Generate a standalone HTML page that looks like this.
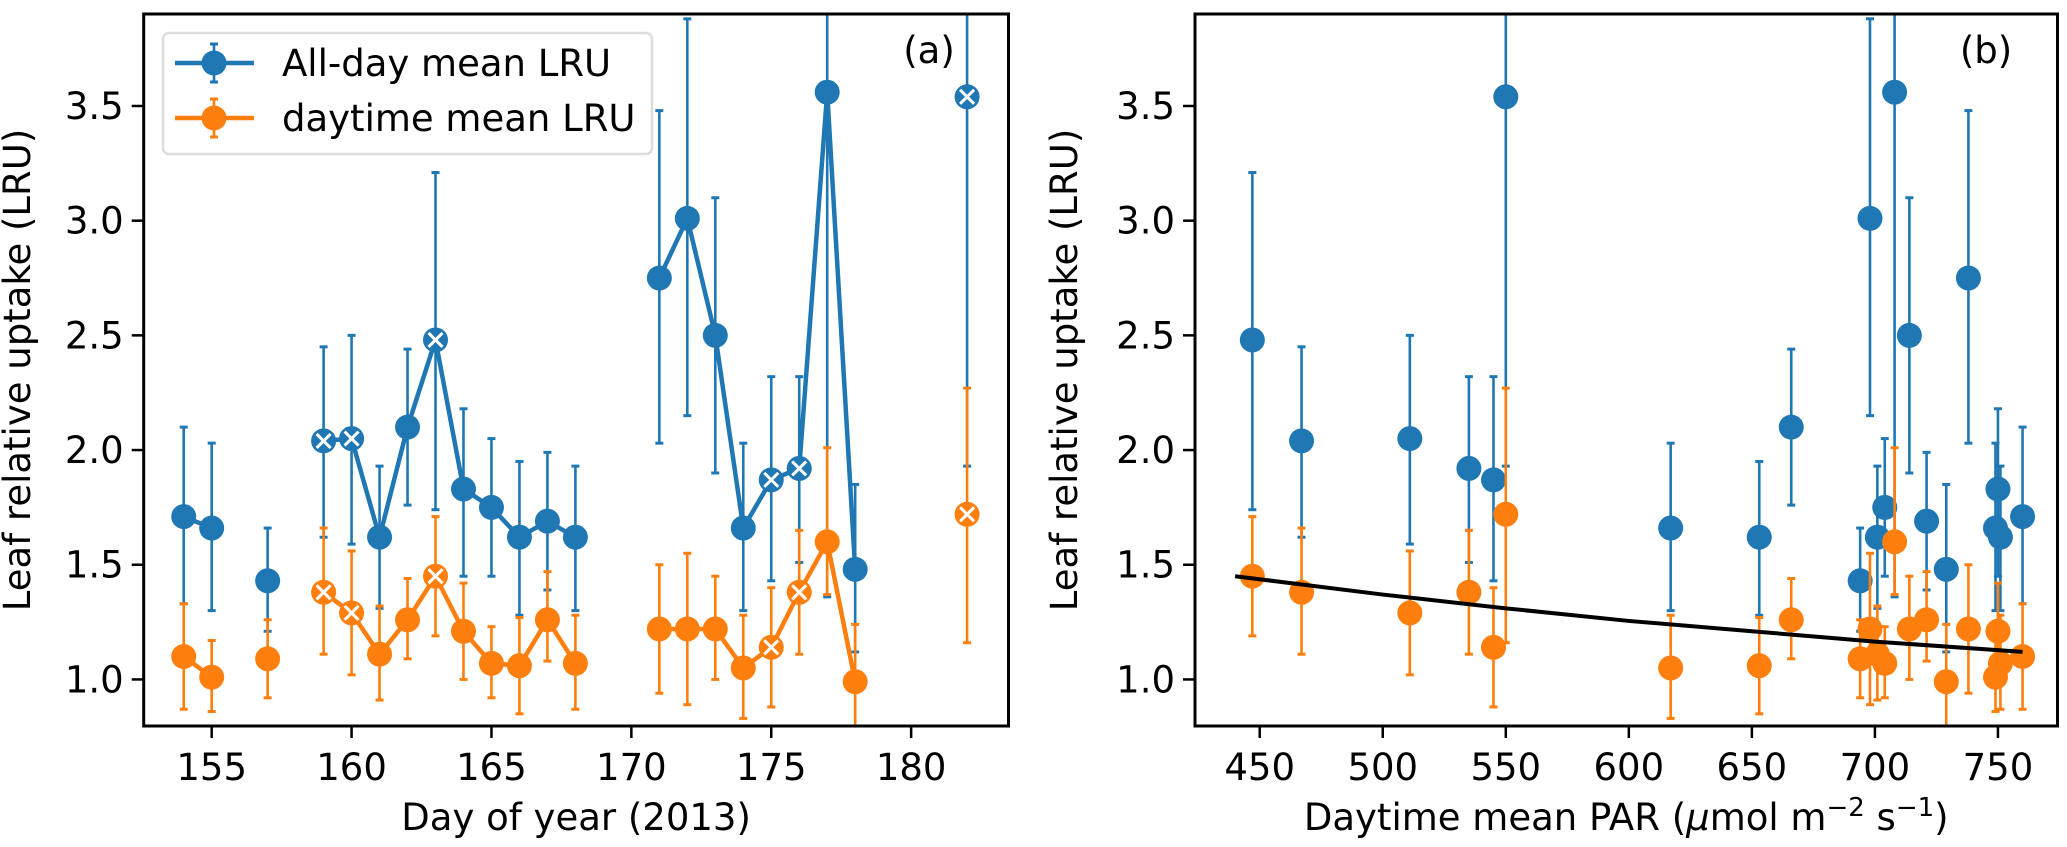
<!DOCTYPE html>
<html><head><meta charset="utf-8"><style>
html,body{margin:0;padding:0;background:#fff;}
svg{display:block;font-family:"DejaVu Sans","Liberation Sans",sans-serif;}
</style></head><body>
<svg id="fig" width="2067" height="847" viewBox="0 0 2067 847" xmlns="http://www.w3.org/2000/svg">
<defs>
<clipPath id="clipA"><rect x="143.7" y="14" width="864.8" height="712"/></clipPath>
<clipPath id="clipB"><rect x="1195" y="14" width="862.5" height="712"/></clipPath>
</defs>
<g id="panelA"></g>
<g id="panelB"></g>
</svg>
<script>
const days = [154,155,157,159,160,161,162,163,164,165,166,167,168,171,172,173,174,175,176,177,178,182];
const allDay = [1.71,1.66,1.43,2.04,2.05,1.62,2.10,2.48,1.83,1.75,1.62,1.69,1.62,2.75,3.01,2.50,1.66,1.87,1.92,3.56,1.48,3.54];
const allDayLo = [1.33,1.30,1.21,1.62,1.59,1.31,1.76,1.74,1.45,1.45,1.28,1.39,1.30,2.03,2.15,1.90,1.30,1.43,1.51,1.36,1.12,1.93];
const allDayHi = [2.10,2.03,1.66,2.45,2.50,1.93,2.44,3.21,2.18,2.05,1.95,1.99,1.93,3.48,3.88,3.10,2.03,2.32,2.32,5.70,1.85,5.20];
const daytime = [1.10,1.01,1.09,1.38,1.29,1.11,1.26,1.45,1.21,1.07,1.06,1.26,1.07,1.22,1.22,1.22,1.05,1.14,1.38,1.60,0.99,1.72];
const daytimeLo = [0.87,0.86,0.92,1.11,1.02,0.91,1.09,1.19,1.00,0.92,0.85,1.08,0.87,0.94,0.89,1.00,0.83,0.88,1.11,1.37,0.70,1.16];
const daytimeHi = [1.33,1.17,1.26,1.66,1.56,1.32,1.44,1.71,1.42,1.23,1.27,1.47,1.28,1.50,1.55,1.45,1.28,1.40,1.65,2.01,1.24,2.27];
const flagged = [0,0,0,1,1,0,0,1,0,0,0,0,0,0,0,0,0,1,1,0,0,1];
const par = [760,749,694,467,511,701,666,447,750,704,653,721,751,738,698,714,617,545,535,708,729,550];
const fitX = [440,500,550,600,650,700,760];
const fitY = [1.45,1.37,1.31,1.255,1.21,1.165,1.12];
const yTicks = [1.0,1.5,2.0,2.5,3.0,3.5];
const xTicksA = [155,160,165,170,175,180];
const xTicksB = [450,500,550,600,650,700,750];

const NS = "http://www.w3.org/2000/svg";
const BLUE = "#1f77b4", ORANGE = "#ff7f0e";
function mk(parent, tag, attrs, text){
  const e = document.createElementNS(NS, tag);
  for (const k in attrs) e.setAttribute(k, attrs[k]);
  if (text !== undefined) e.textContent = text;
  parent.appendChild(e);
  return e;
}
const Y0 = 0.797, Y1 = 3.901, TOP = 14, BOT = 726;
function yS(v){ return BOT - (v - Y0) / (Y1 - Y0) * (BOT - TOP); }
const A = {l:143.7, r:1008.5, x0:152.57, x1:183.48};
const B = {l:1195, r:2057.5, x0:423.7, x1:774.2};
function xA(v){ return A.l + (v - A.x0) / (A.x1 - A.x0) * (A.r - A.l); }
function xB(v){ return B.l + (v - B.x0) / (B.x1 - B.x0) * (B.r - B.l); }

function axes(g, P, xs, xticks, xlabel, tag, tagX, ylabX){
  for (const t of yTicks){
    const y = yS(t);
    const tk = mk(g,'line',{x1:P.l-12,x2:P.l,y1:y,y2:y,stroke:'#000','stroke-width':2.5});
    
    
    const tl = mk(g,'text',{x:P.l-20,y:y+13,'font-size':37,'text-anchor':'end'},t.toFixed(1));
    
    
  }
  for (const t of xticks){
    const x = xs(t);
    const tk = mk(g,'line',{x1:x,x2:x,y1:BOT,y2:BOT+12,stroke:'#000','stroke-width':2.5});
    
    
    const tl = mk(g,'text',{x:x,y:780,'font-size':37,'text-anchor':'middle'},String(t));
    
    
  }
  const xl = mk(g,'text',{x:(P.l+P.r)/2,y:830,'font-size':37,'text-anchor':'middle'});
  xl.innerHTML = xlabel;
  
  
  const yl = mk(g,'text',{x:0,y:0,'font-size':37,'text-anchor':'middle',transform:`translate(${ylabX},370) rotate(-90)`},'Leaf relative uptake (LRU)');
  
  
  const pl = mk(g,'text',{x:tagX,y:63,'font-size':37,'text-anchor':'middle'},tag);
  
  
  const fr = mk(g,'rect',{x:P.l,y:TOP,width:P.r-P.l,height:BOT-TOP,fill:'none',stroke:'#000','stroke-width':3});
  
  
}

function errorbar(g, x, lo, hi, color){
  const e = mk(g,'line',{x1:x,x2:x,y1:yS(lo),y2:yS(hi),stroke:color,'stroke-width':2.6});
  
  
  for (const v of [lo,hi]){
    const c = mk(g,'line',{x1:x-4,x2:x+4,y1:yS(v),y2:yS(v),stroke:color,'stroke-width':3});
    
    
  }
}
function marker(g, x, v, color, flag){
  const c = mk(g,'circle',{cx:x,cy:yS(v),r:12.5,fill:color});
  
  
  if (flag){
    const y = yS(v), d = 7;
    const p = mk(g,'path',{d:`M${x-d},${y-d}L${x+d},${y+d}M${x-d},${y+d}L${x+d},${y-d}`,stroke:'#fff','stroke-width':3});
    
    
  }
}

// Panel A
const gA = document.getElementById('panelA');
const cA = mk(gA,'g',{'clip-path':'url(#clipA)'});


function seriesA(vals, lo, hi, color, name){
  const sg = mk(cA,'g',{});
  
  
  for (let i=0;i<days.length;i++) errorbar(sg, xA(days[i]), lo[i], hi[i], color);
  let seg = [];
  const segs = [];
  for (let i=0;i<days.length;i++){
    if (i>0 && days[i]-days[i-1] !== 1){ segs.push(seg); seg=[]; }
    seg.push(i);
  }
  segs.push(seg);
  for (const s of segs){
    if (s.length < 2) continue;
    const pts = s.map(i=>xA(days[i])+','+yS(vals[i])).join(' ');
    const pl = mk(sg,'polyline',{points:pts,fill:'none',stroke:color,'stroke-width':4.5,'stroke-linejoin':'round'});
    
    
  }
  for (let i=0;i<days.length;i++) marker(sg, xA(days[i]), vals[i], color, flagged[i]);
}
seriesA(allDay, allDayLo, allDayHi, BLUE, 'all-day-series');
seriesA(daytime, daytimeLo, daytimeHi, ORANGE, 'daytime-series');
axes(gA, A, xA, xTicksA, 'Day of year (2013)', '(a)', 929, 30);

// Legend
const lg = mk(gA,'g',{});


const lb = mk(lg,'rect',{x:163,y:33,width:489,height:121,rx:6,fill:'#fff','fill-opacity':0.8,stroke:'#ddd','stroke-width':2.5});


const entries = [['All-day mean LRU',BLUE,63],['daytime mean LRU',ORANGE,118]];
for (const [label,color,y] of entries){
  const eg = mk(lg,'g',{});
  
  
  mk(eg,'line',{x1:175,x2:254,y1:y,y2:y,stroke:color,'stroke-width':4.5});
  mk(eg,'line',{x1:214,x2:214,y1:y-19,y2:y+19,stroke:color,'stroke-width':2.6});
  mk(eg,'line',{x1:210,x2:218,y1:y-19,y2:y-19,stroke:color,'stroke-width':3});
  mk(eg,'line',{x1:210,x2:218,y1:y+19,y2:y+19,stroke:color,'stroke-width':3});
  mk(eg,'circle',{cx:214,cy:y,r:12.5,fill:color});
  mk(eg,'text',{x:282,y:y+13,'font-size':37},label);
}

// Panel B
const gB = document.getElementById('panelB');
const cB = mk(gB,'g',{'clip-path':'url(#clipB)'});


function seriesB(vals, lo, hi, color, name){
  const sg = mk(cB,'g',{});
  
  
  for (let i=0;i<par.length;i++) errorbar(sg, xB(par[i]), lo[i], hi[i], color);
  for (let i=0;i<par.length;i++) marker(sg, xB(par[i]), vals[i], color, 0);
}
seriesB(allDay, allDayLo, allDayHi, BLUE, 'all-day-vs-par');
seriesB(daytime, daytimeLo, daytimeHi, ORANGE, 'daytime-vs-par');
const fit = mk(cB,'polyline',{points:fitX.map((x,i)=>xB(x)+','+yS(fitY[i])).join(' '),fill:'none',stroke:'#000','stroke-width':4});


axes(gB, B, xB, xTicksB, 'Daytime mean PAR (<tspan font-style="italic">μ</tspan>mol m<tspan dy="-14" font-size="26">−2</tspan><tspan dy="14"> s</tspan><tspan dy="-14" font-size="26">−1</tspan><tspan dy="14">)</tspan>', '(b)', 1986, 1077);
</script>
</body></html>
